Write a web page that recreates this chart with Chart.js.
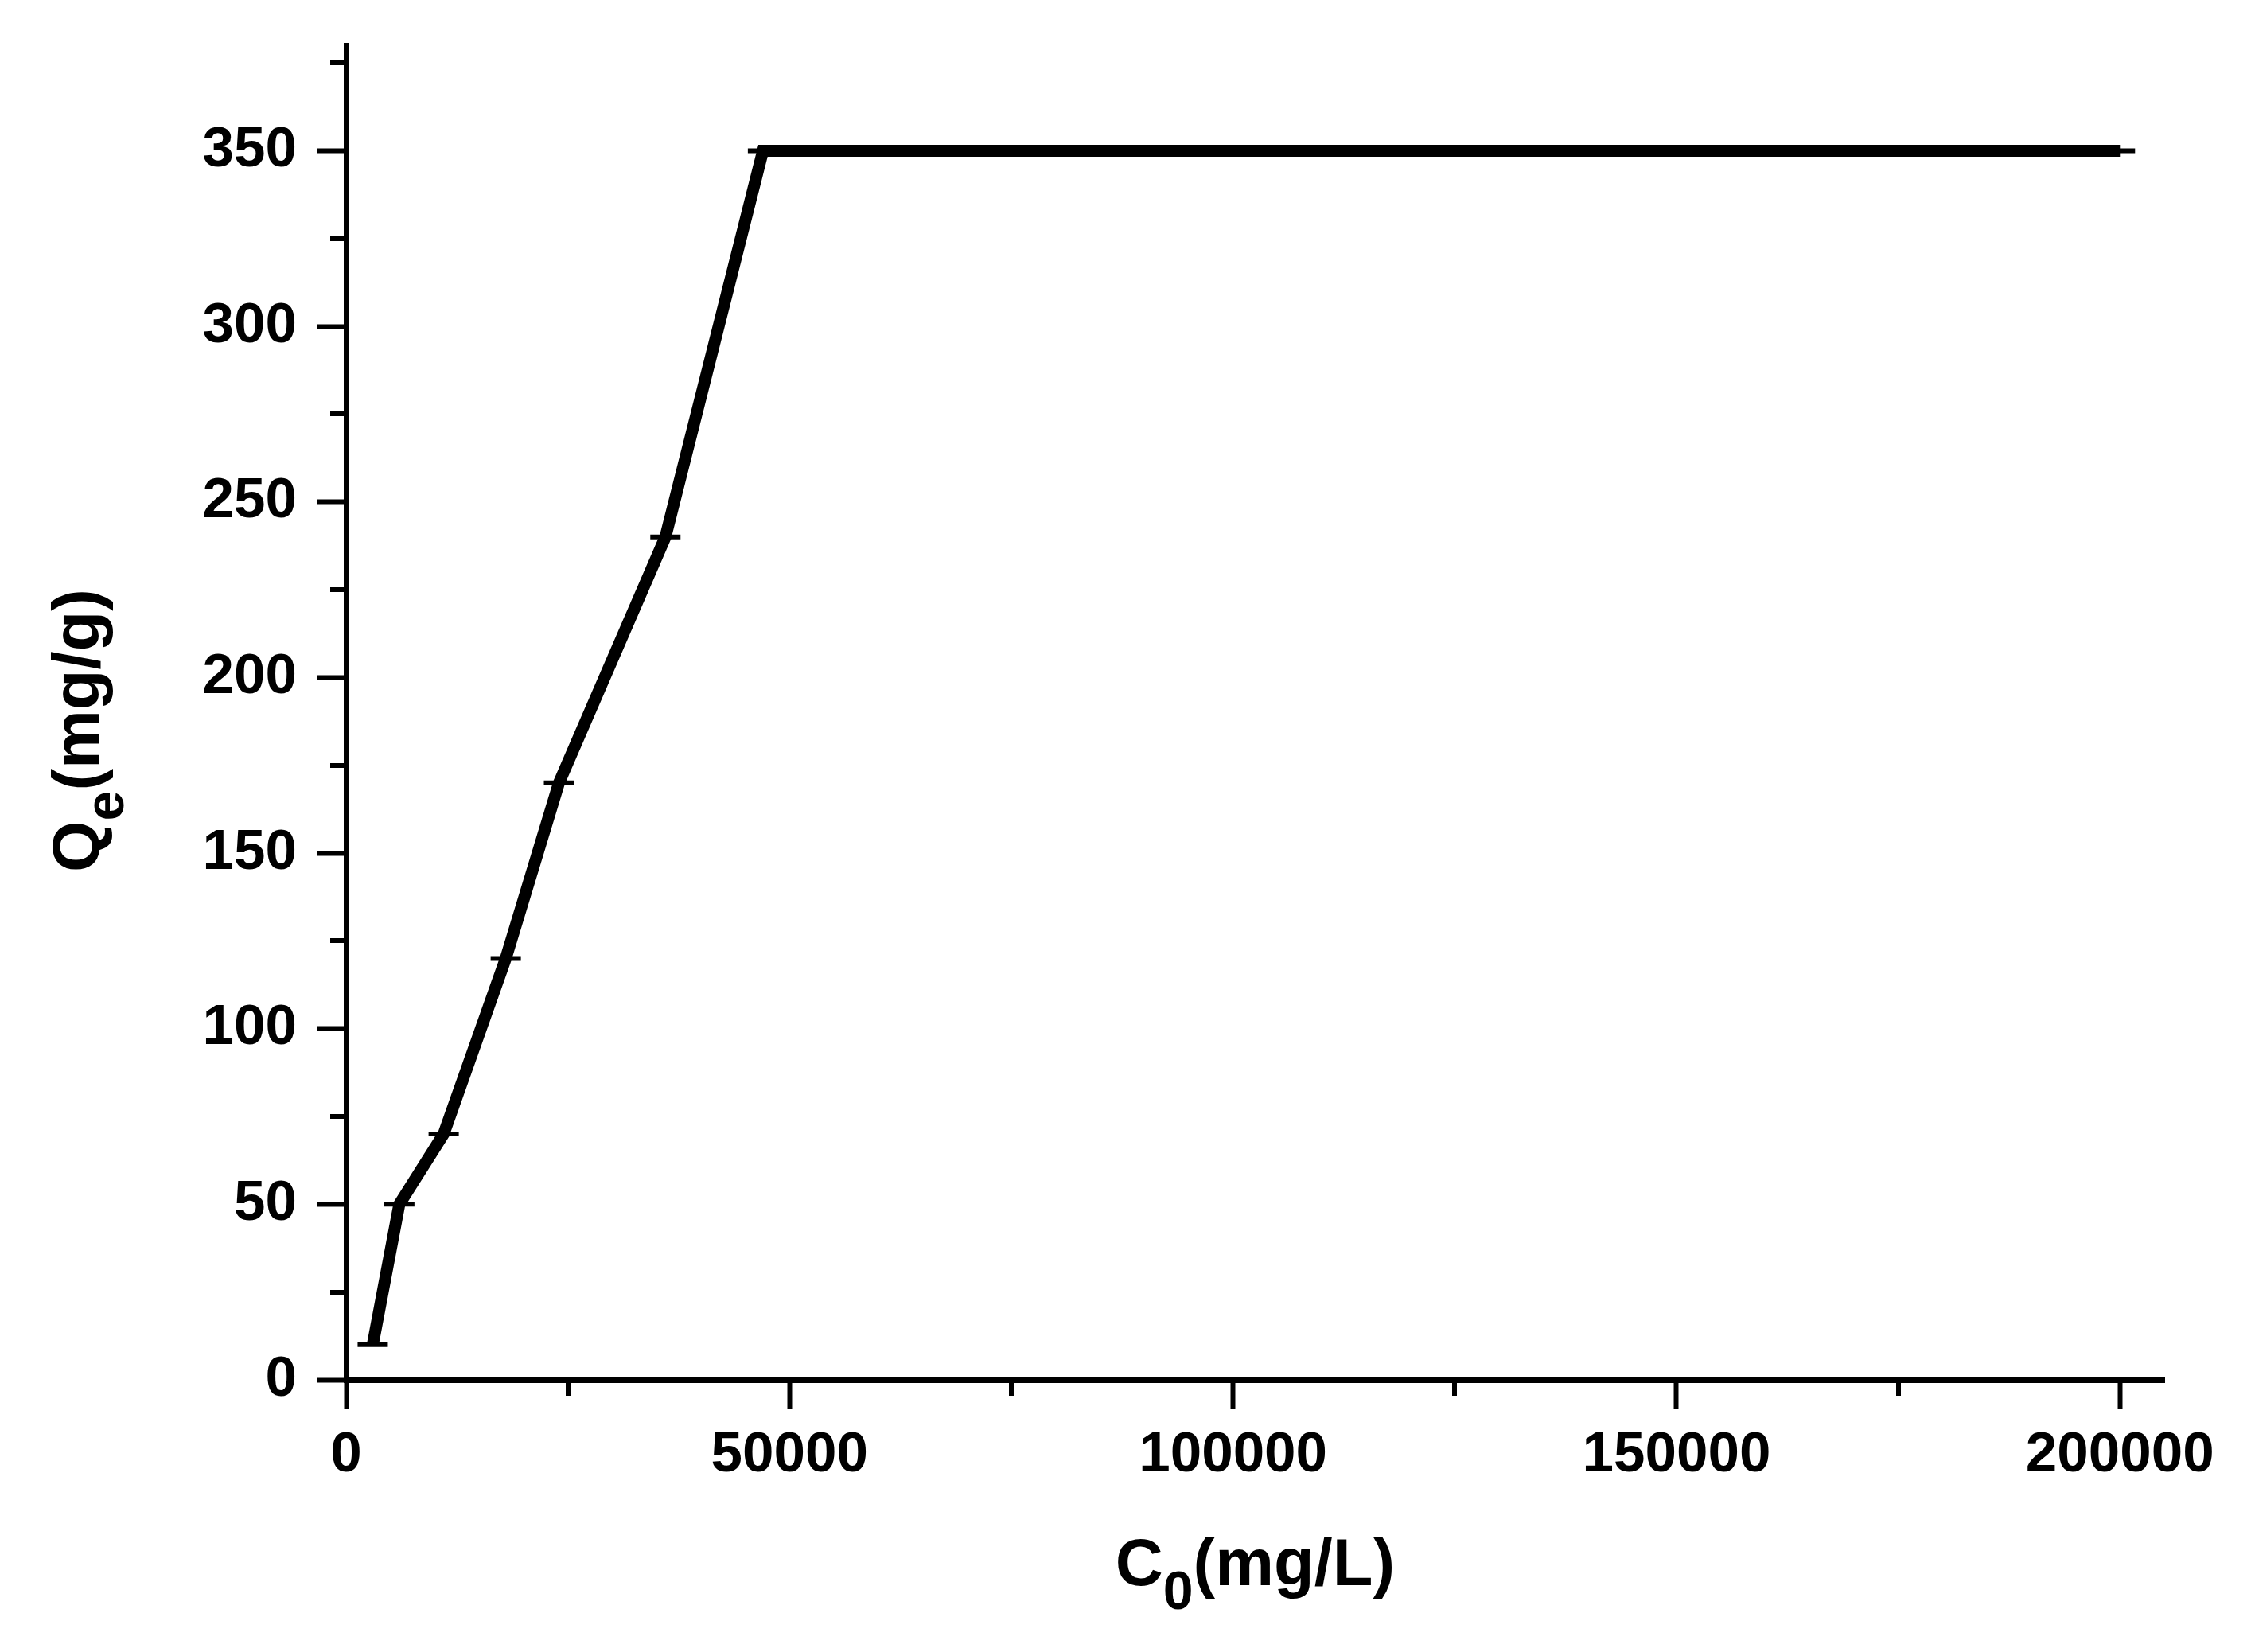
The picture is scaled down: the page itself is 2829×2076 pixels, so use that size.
<!DOCTYPE html>
<html>
<head>
<meta charset="utf-8">
<title>Qe vs C0</title>
<script src="https://cdn.jsdelivr.net/npm/chart.js@4/dist/chart.umd.min.js"></script>
<style>
	html, body { margin: 0; padding: 0; background: #fff; }
	#wrap { width: 2829px; height: 2076px; }
</style>
</head>
<body>
<div id="wrap"><canvas id="qe-chart" width="2829" height="2076"></canvas></div>
<script>
/* Adsorption capacity vs initial concentration */
/* global Chart */

(function () {
	'use strict';

	// ── Data ─────────────────────────────────────────────────────────────────

	var c0 = [3000, 6000, 11000, 18000, 24000, 36000, 47000, 200000];
	var qe = [10, 50, 70, 120, 170, 240, 350, 350];

	var xTicks      = [0, 50000, 100000, 150000, 200000];
	var xMinorTicks = [25000, 75000, 125000, 175000];
	var yTicks      = [0, 50, 100, 150, 200, 250, 300, 350];
	var yMinorTicks = [25, 75, 125, 175, 225, 275, 325, 375];

	var xTitle = [{ t: 'C' }, { t: '0', sub: true }, { t: '(mg/L)' }];
	var yTitle = [{ t: 'Q' }, { t: 'e', sub: true }, { t: '(mg/g)' }];

	// ── Styling ──────────────────────────────────────────────────────────────

	var FONT      = '"Liberation Sans", Arial, Helvetica, sans-serif';
	var INK       = '#000';
	var AXIS_W    = 7;
	var MAJOR_LEN = 37;
	var MINOR_LEN = 20;
	var CAP_HALF  = 19;

	function fmt(v) { return String(v); }

	// ── Plugin: minor ticks, error-bar caps, axis titles with subscripts ─────

	function drawTitle(ctx, parts, cx, baseline, rotate) {
		var mainFont = 'bold 83px ' + FONT;
		var subFont  = 'bold 68px ' + FONT;
		var total = 0;
		parts.forEach(function (p) {
			ctx.font = p.sub ? subFont : mainFont;
			p.w = ctx.measureText(p.t).width;
			total += p.w;
		});
		ctx.save();
		ctx.fillStyle = INK;
		ctx.textBaseline = 'alphabetic';
		ctx.textAlign = 'left';
		if (rotate) {
			ctx.translate(baseline, cx);
			ctx.rotate(-Math.PI / 2);
		} else {
			ctx.translate(cx, baseline);
		}
		var x = -total / 2;
		parts.forEach(function (p) {
			ctx.font = p.sub ? subFont : mainFont;
			ctx.fillText(p.t, x, p.sub ? 30 : 0);
			x += p.w;
		});
		ctx.restore();
	}

	var extras = {
		id: 'extras',
		beforeDatasetsDraw: function (chart) {
			var ctx = chart.ctx;
			var xs = chart.scales.x, ys = chart.scales.y;
			ctx.save();
			ctx.strokeStyle = INK;
			ctx.lineWidth = 6;
			for (var i = 0; i < c0.length; i++) {
				var px = xs.getPixelForValue(c0[i]);
				var py = ys.getPixelForValue(qe[i]);
				ctx.beginPath();
				ctx.moveTo(px - CAP_HALF, py);
				ctx.lineTo(px + CAP_HALF, py);
				ctx.stroke();
			}
			ctx.restore();
		},
		afterDraw: function (chart) {
			var ctx = chart.ctx;
			var xs = chart.scales.x, ys = chart.scales.y;
			var area = chart.chartArea;
			ctx.save();
			ctx.strokeStyle = INK;
			ctx.lineWidth = 6;
			ctx.beginPath();
			xMinorTicks.forEach(function (v) {
				var px = Math.round(xs.getPixelForValue(v));
				ctx.moveTo(px, area.bottom);
				ctx.lineTo(px, area.bottom + MINOR_LEN);
			});
			yMinorTicks.forEach(function (v) {
				var py = Math.round(ys.getPixelForValue(v));
				ctx.moveTo(area.left, py);
				ctx.lineTo(area.left - MINOR_LEN, py);
			});
			ctx.stroke();
			ctx.restore();

			drawTitle(ctx, xTitle, (area.left + area.right) / 2, 1992, false);
			drawTitle(ctx, yTitle, 918, 125, true);
		}
	};

	// ── Chart ────────────────────────────────────────────────────────────────

	function axis(min, max, ticks, size, isX) {
		return {
			type: 'linear',
			min: min,
			max: max,
			afterBuildTicks: function (s) {
				s.ticks = ticks.map(function (v) { return { value: v }; });
			},
			afterFit: function (s) {
				// Fixed axis box, no label overflow padding: plot area is set by layout.padding.
				if (isX) { s.height = size; } else { s.width = size; }
				s.paddingTop = s.paddingBottom = s.paddingLeft = s.paddingRight = 0;
			},
			border: { display: true, color: INK, width: AXIS_W },
			grid: {
				drawOnChartArea: false,
				drawTicks: true,
				tickLength: MAJOR_LEN,
				tickWidth: 6,
				tickColor: INK
			},
			ticks: {
				color: INK,
				padding: isX ? 16 : 25,
				autoSkip: false,
				maxRotation: 0,
				font: { family: FONT, size: 71, weight: 'bold' },
				callback: fmt
			}
		};
	}

	new Chart(document.getElementById('qe-chart'), {
		type: 'line',
		data: {
			datasets: [{
				data: c0.map(function (x, i) { return { x: x, y: qe[i] }; }),
				borderColor: INK,
				borderWidth: 15,
				pointRadius: 0,
				tension: 0,
				fill: false
			}]
		},
		options: {
			responsive: false,
			animation: false,
			layout: { padding: { left: 0, right: 109, top: 57, bottom: 0 } },
			plugins: { legend: { display: false }, tooltip: { enabled: false } },
			scales: {
				x: axis(0, 205000, xTicks, 342, true),
				y: axis(0, 380, yTicks, 435, false)
			}
		},
		plugins: [extras]
	});

}());
</script>
</body>
</html>
